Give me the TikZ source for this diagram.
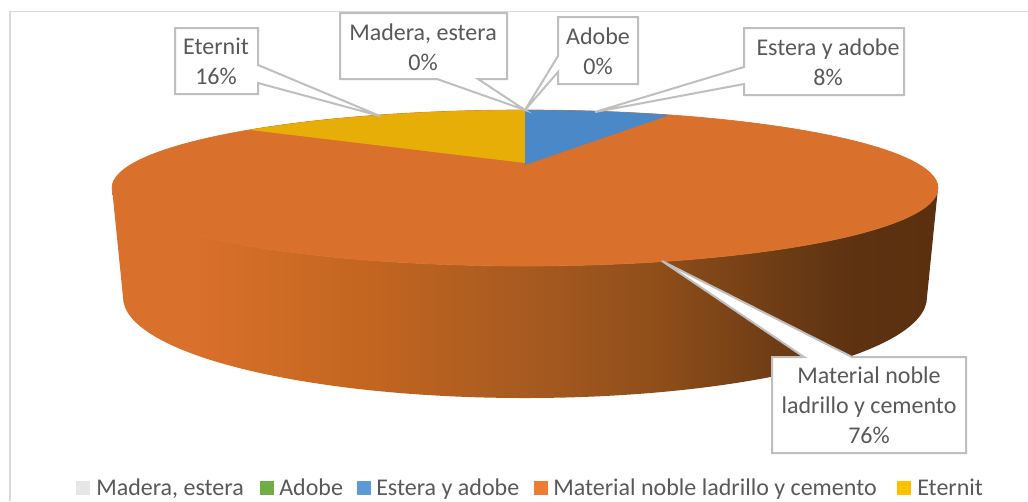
\documentclass[tikz,border=0pt]{standalone}
\usepackage{fontspec}
\setmainfont{Carlito}
\definecolor{txt}{HTML}{595959}
\definecolor{boxline}{HTML}{BFBFBF}
\definecolor{frameline}{HTML}{D9D9D9}
\definecolor{topor}{HTML}{D9702B}
\definecolor{topye}{HTML}{E8AE08}
\definecolor{topbl}{HTML}{4A88C7}
\definecolor{wa}{HTML}{C46620}
\definecolor{wb}{HTML}{A85A20}
\definecolor{wc}{HTML}{8F4E1A}
\definecolor{wd}{HTML}{6F3D15}
\definecolor{we}{HTML}{5C3211}
\definecolor{wf}{HTML}{5A3010}
\definecolor{kgrey}{HTML}{E7E6E6}
\definecolor{kgreen}{HTML}{70AD47}
\definecolor{kblue}{HTML}{5B9BD5}
\definecolor{korange}{HTML}{ED7D31}
\definecolor{kyellow}{HTML}{FFC000}
\pgfdeclarehorizontalshading{sidewall}{100bp}{
 color(0bp)=(topor);
 color(25bp)=(topor);
 color(30bp)=(topor);
 color(40bp)=(wa);
 color(50bp)=(wb);
 color(58bp)=(wc);
 color(65bp)=(wd);
 color(70bp)=(we);
 color(75bp)=(wf);
 color(100bp)=(wf)}
\tikzset{
 callout/.style={draw=boxline,fill=white,line width=1.5pt,line join=miter},
 lab/.style={text=txt,align=center,inner sep=0pt,font=\fontsize{18}{22.4}\selectfont},
 legtext/.style={text=txt,anchor=base west,inner sep=0pt,font=\fontsize{18}{20}\selectfont},
 legkey/.style={minimum size=10.5pt,inner sep=0pt,anchor=north west}
}
\begin{document}
\begin{tikzpicture}[x=0.75pt,y=-0.75pt]
\useasboundingbox (0,0) rectangle (1028,501);
\fill[white] (0,0) rectangle (1028,501);
% chart frame
\draw[frameline,line width=1pt] (1028,11.5) -- (10,11.5);
\draw[frameline,line width=1.8pt] (10,11) -- (10,501);
% side wall
\path[shading=sidewall] (938,188) arc[start angle=0,end angle=180,x radius=413,y radius=78]
  -- (123,297) arc[start angle=180,end angle=0,x radius=402,y radius=101] -- cycle;
% top face
\path[fill=topor,draw=topor,line width=0.5pt] (525,188) ellipse[x radius=413,y radius=78];
\begin{scope}
 \clip (525,188) ellipse[x radius=413,y radius=78];
 \fill[topye] (525,163) -- (250,130) -- (250,90) -- (525,90) -- cycle;
 \fill[topbl] (525,165) -- (667,116) -- (667,90) -- (525,90) -- cycle;
\end{scope}
% callouts
\draw[callout] (175,28) -- (258,28) -- (258,65) -- (380,116) -- (258,83) -- (258,94) -- (175,94) -- cycle;
\draw[callout] (340,13) -- (507,13) -- (507,79) -- (478,79) -- (525,110) -- (437,79) -- (340,79) -- cycle;
\draw[callout] (558,17) -- (638,17) -- (638,84) -- (558,84) -- (558,72) -- (525,110) -- (558,56) -- cycle;
\draw[callout] (744,28) -- (904,28) -- (904,95) -- (744,95) -- (744,84) -- (595,112) -- (744,67) -- cycle;
\draw[callout] (772,357) -- (804,357) -- (662,261) -- (852,357) -- (966,357) -- (966,453) -- (772,453) -- cycle;
\node[lab] (eternit) at (216,61) {Eternit\\16\%};
\node[lab] (madera) at (423,47) {Madera, estera\\0\%};
\node[lab] (adobe) at (598,51) {Adobe\\0\%};
\node[lab] (estera) at (828,62) {Estera y adobe\\8\%};
\node[lab] (material) at (869,405) {Material noble\\ladrillo y cemento\\76\%};
% legend
\node[legkey,fill=kgrey] (k1) at (76,481) {};
\node[legtext] (t1) at (96,495) {Madera, estera};
\node[legkey,fill=kgreen] (k2) at (260,481) {};
\node[legtext] (t2) at (279,495) {Adobe};
\node[legkey,fill=kblue] (k3) at (357,481) {};
\node[legtext] (t3) at (376,495) {Estera y adobe};
\node[legkey,fill=korange] (k4) at (534,481) {};
\node[legtext] (t4) at (553,495) {Material noble ladrillo y cemento};
\node[legkey,fill=kyellow] (k5) at (897,481) {};
\node[legtext] (t5) at (917,495) {Eternit};
\end{tikzpicture}
\end{document}
